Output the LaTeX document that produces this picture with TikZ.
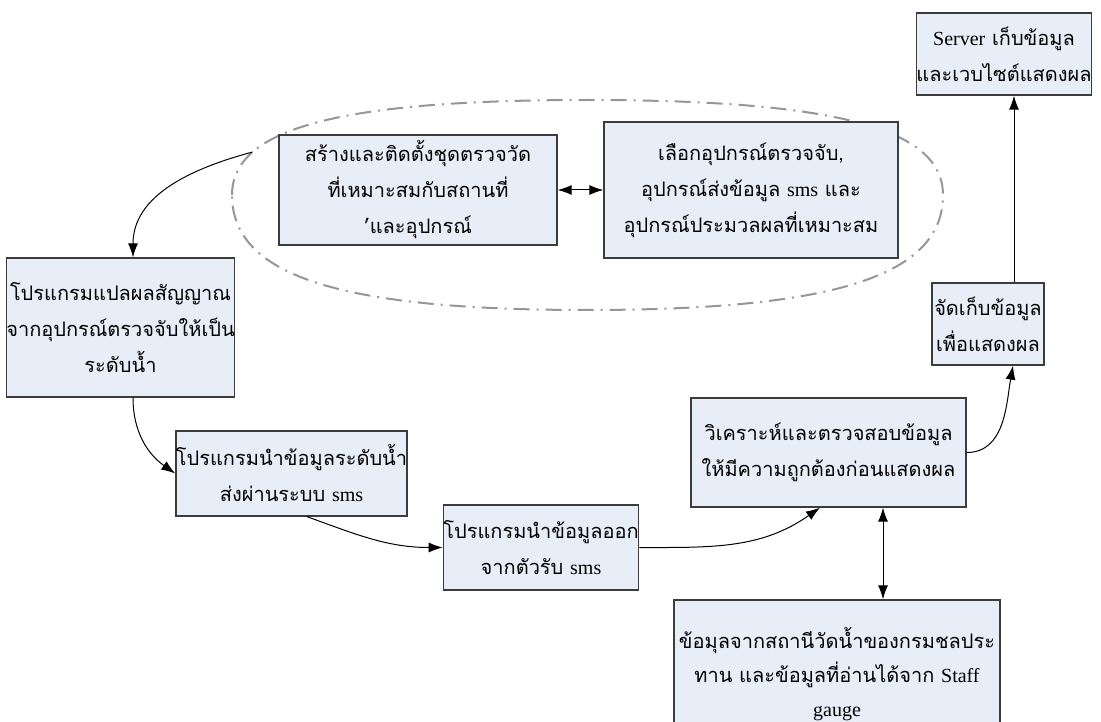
\documentclass[tikz,border=0pt]{standalone}
\usepackage{fontspec}
\setmainfont[Script=Thai]{Loma}
\newfontfamily\lat{Liberation Serif}
\usetikzlibrary{arrows.meta}
\definecolor{boxfill}{RGB}{232,238,248}
\definecolor{boxline}{RGB}{60,60,60}
\definecolor{ellc}{RGB}{150,150,150}
\tikzset{
 stepbox/.style={draw=boxline, line width=1.3pt, fill=boxfill, align=center, inner sep=0pt, font=\fontsize{20}{36}\selectfont},
 groupline/.style={draw=ellc, line width=2pt, dash pattern=on 16pt off 7pt on 2pt off 7pt},
 conn/.style={draw=black, line width=1pt, -{Latex[length=14pt,width=10pt]}},
 biconn/.style={draw=black, line width=1pt, {Latex[length=14pt,width=10pt]}-{Latex[length=14pt,width=10pt]}},
}
\begin{document}
\begin{tikzpicture}[x=1pt,y=-1pt]
\useasboundingbox (0,0) rectangle (1101,722);
\draw[groupline] (232,195) .. controls (232,128.5) and (338.5,100) .. (587,100)
  .. controls (835.5,100) and (943,128.5) .. (943,195)
  .. controls (943,275.5) and (835.5,310) .. (587,310)
  .. controls (338.5,310) and (232,275.5) .. cycle;
\coordinate (e1) at (252.6,152);
\node[stepbox, minimum width=170pt, minimum height=82pt] (srv) at (1004,54) {{\lat Server} เก็บข้อมูล\\และเวบไซต์แสดงผล};
\node[stepbox, minimum width=278pt, minimum height=110pt] (A) at (418,190) {สร้างและติดตั้งชุดตรวจวัด\\ที่เหมาะสมกับสถานที่\\'และอุปกรณ์};
\node[stepbox, minimum width=294pt, minimum height=136pt] (B) at (751,190) {เลือกอุปกรณ์ตรวจจับ,\\อุปกรณ์ส่งข้อมูล {\lat sms} และ\\อุปกรณ์ประมวลผลที่เหมาะสม};
\node[stepbox, minimum width=217pt, minimum height=139pt] (L) at (120.5,327.5) {โปรแกรมแปลผลสัญญาณ\\จากอุปกรณ์ตรวจจับให้เป็น\\ระดับน้ำ};
\node[stepbox, minimum width=217pt, minimum height=85pt] (S1) at (291.5,473.5) {โปรแกรมนำข้อมูลระดับน้ำ\\ส่งผ่านระบบ {\lat sms}};
\node[stepbox, minimum width=170pt, minimum height=85pt] (S2) at (541,547.5) {โปรแกรมนำข้อมูลออก\\จากตัวรับ {\lat sms}};
\node[stepbox, minimum width=275pt, minimum height=109pt] (An) at (828.5,452.5) {วิเคราะห์และตรวจสอบข้อมูล\\ให้มีความถูกต้องก่อนแสดงผล};
\node[stepbox, minimum width=112pt, minimum height=82pt] (St) at (988,324) {จัดเก็บข้อมูล\\เพื่อแสดงผล};
\node[stepbox, font=\fontsize{20}{34}\selectfont, minimum width=326pt, minimum height=148pt] (Bot) at (837,674) {ข้อมุลจากสถานีวัดน้ำของกรมชลประ\\ทาน และข้อมูลที่อ่านได้จาก {\lat Staff}\\{\lat gauge}};
\draw[conn] (e1) to[out=195,in=90] ([xshift=12.5pt]L.north);
\draw[conn] ([xshift=12.5pt]L.south) to[out=-90,in=145] (S1.west);
\draw[conn] ([xshift=15.5pt]S1.south) to[out=-20,in=180] (S2.west);
\draw[conn] (S2.east) to[out=0,in=215] ([xshift=-8.5pt]An.south);
\draw[biconn] ([xshift=54.5pt]An.south) -- ([xshift=46pt]Bot.north);
\draw[conn] (An.east) to[out=0,in=-100] ([xshift=25pt]St.south);
\draw[conn] ([xshift=26pt]St.north) -- ([xshift=10pt]srv.south);
\draw[biconn] (A.east) -- (B.west);
\end{tikzpicture}
\end{document}
